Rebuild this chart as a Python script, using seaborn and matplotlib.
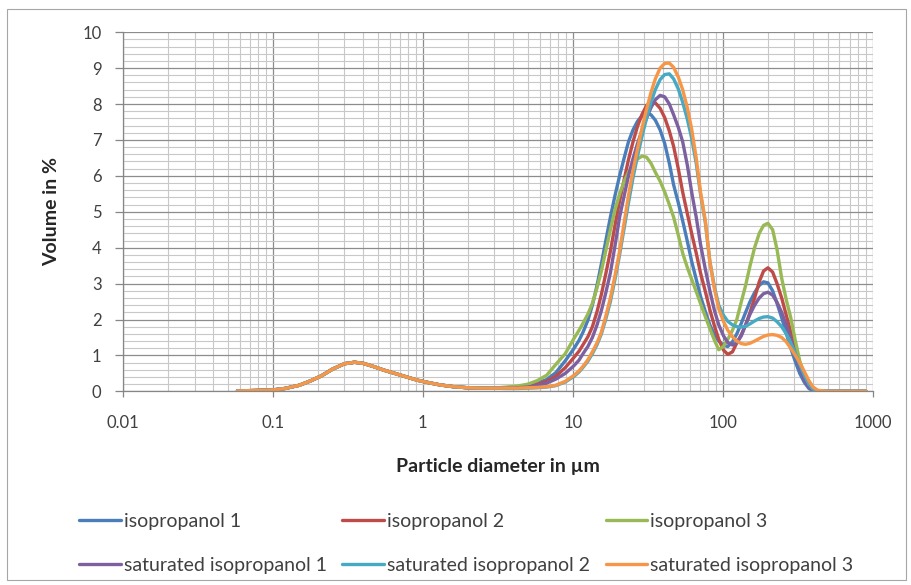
import numpy as np
import pandas as pd
import seaborn as sns
import matplotlib.pyplot as plt
from matplotlib.patches import Rectangle

# particle diameters in um, fine mode shared by all samples
fine_diam = [0.058, 0.07, 0.085, 0.1, 0.12, 0.15, 0.18, 0.21, 0.25, 0.3, 0.35, 0.4,
             0.47, 0.55, 0.65, 0.78, 0.92, 1.1, 1.3, 1.6, 2.0, 2.5, 3.0]
fine_mode = [0.01, 0.02, 0.03, 0.04, 0.08, 0.17, 0.30, 0.43, 0.62, 0.77, 0.81, 0.78,
             0.69, 0.59, 0.50, 0.40, 0.31, 0.24, 0.18, 0.13, 0.10, 0.09, 0.09]

coarse_diam = [3.6, 4.3, 5.0, 5.8, 6.7, 7.7, 8.9,
               10.2, 11, 11.7, 12.6, 13.5, 14.5, 15.5, 16.6, 17.8, 19.1,
               20.5, 22, 23.5, 25.2, 27, 29, 31, 33.2, 35.5, 38.2,
               41, 44, 47, 50.5, 54, 58, 62, 66.5, 71, 76.5,
               82, 88, 94, 101, 108, 116, 124, 133, 142, 152,
               163, 175, 187, 200, 215, 230, 247, 265, 284, 305,
               326, 350, 375, 400, 430, 500, 600, 750, 900]

iso_1 = [0.10, 0.13, 0.17, 0.23, 0.33, 0.52, 0.85,
         1.20, 1.42, 1.65, 1.98, 2.40, 2.95, 3.55, 4.20, 4.85, 5.45,
         6.00, 6.50, 6.95, 7.28, 7.52, 7.68, 7.75, 7.70, 7.55, 7.28,
         6.90, 6.35, 5.75, 5.25, 4.75, 4.18, 3.62, 3.12, 2.65, 2.22,
         1.85, 1.58, 1.40, 1.28, 1.25, 1.38, 1.60, 1.90, 2.20, 2.50,
         2.75, 2.95, 3.05, 3.02, 2.80, 2.45, 2.05, 1.62, 1.20, 0.82,
         0.50, 0.25, 0.08, 0.02, 0.0, 0.0, 0.0, 0.0, 0.0]
iso_2 = [0.10, 0.11, 0.14, 0.19, 0.28, 0.42, 0.66,
         0.95, 1.12, 1.30, 1.52, 1.80, 2.22, 2.70, 3.28, 3.90, 4.62,
         5.30, 5.90, 6.45, 6.95, 7.38, 7.72, 7.95, 8.06, 8.03, 7.88,
         7.62, 7.25, 6.82, 6.20, 5.55, 4.95, 4.40, 3.85, 3.30, 2.78,
         2.27, 1.82, 1.45, 1.15, 1.03, 1.10, 1.35, 1.58, 1.85, 2.20,
         2.60, 3.05, 3.35, 3.44, 3.32, 3.00, 2.60, 2.12, 1.65, 1.18,
         0.75, 0.40, 0.18, 0.05, 0.0, 0.0, 0.0, 0.0, 0.0]
iso_3 = [0.12, 0.15, 0.20, 0.30, 0.45, 0.75, 1.05,
         1.48, 1.70, 1.90, 2.15, 2.45, 2.88, 3.35, 3.92, 4.50, 5.05,
         5.50, 5.85, 6.10, 6.32, 6.47, 6.55, 6.52, 6.35, 6.10, 5.85,
         5.55, 5.20, 4.85, 4.35, 3.85, 3.45, 3.12, 2.78, 2.45, 2.08,
         1.75, 1.42, 1.16, 1.25, 1.45, 1.70, 2.00, 2.50, 2.95, 3.50,
         4.00, 4.40, 4.62, 4.68, 4.50, 3.95, 3.15, 2.55, 2.05, 1.40,
         0.85, 0.45, 0.22, 0.07, 0.0, 0.0, 0.0, 0.0, 0.0]
sat_1 = [0.09, 0.10, 0.12, 0.16, 0.23, 0.34, 0.50,
         0.72, 0.87, 1.05, 1.25, 1.50, 1.85, 2.25, 2.75, 3.30, 4.05,
         4.85, 5.45, 6.00, 6.48, 6.90, 7.28, 7.60, 7.90, 8.12, 8.24,
         8.20, 8.00, 7.70, 7.35, 6.95, 6.30, 5.55, 4.85, 4.10, 3.40,
         2.80, 2.25, 1.85, 1.55, 1.36, 1.29, 1.35, 1.55, 1.85, 2.15,
         2.40, 2.60, 2.72, 2.76, 2.68, 2.48, 2.20, 1.85, 1.45, 1.02,
         0.65, 0.32, 0.12, 0.03, 0.0, 0.0, 0.0, 0.0, 0.0]
sat_2 = [0.08, 0.08, 0.09, 0.10, 0.12, 0.16, 0.26,
         0.42, 0.54, 0.67, 0.84, 1.05, 1.30, 1.60, 2.02, 2.50, 3.12,
         3.80, 4.55, 5.25, 5.95, 6.55, 7.12, 7.60, 8.05, 8.40, 8.68,
         8.82, 8.84, 8.70, 8.42, 8.05, 7.58, 7.05, 6.35, 5.50, 4.70,
         3.62, 2.90, 2.40, 2.12, 1.95, 1.85, 1.80, 1.79, 1.81, 1.88,
         1.96, 2.03, 2.07, 2.08, 2.04, 1.94, 1.80, 1.60, 1.35, 1.05,
         0.75, 0.45, 0.20, 0.06, 0.01, 0.0, 0.0, 0.0, 0.0]
sat_3 = [0.09, 0.09, 0.10, 0.11, 0.13, 0.17, 0.28,
         0.45, 0.57, 0.70, 0.88, 1.10, 1.35, 1.65, 2.10, 2.60, 3.22,
         3.90, 4.70, 5.45, 6.15, 6.75, 7.35, 7.85, 8.32, 8.70, 9.00,
         9.13, 9.14, 9.02, 8.75, 8.40, 7.90, 7.30, 6.50, 5.55, 4.75,
         3.60, 2.85, 2.30, 1.95, 1.70, 1.52, 1.40, 1.33, 1.31, 1.34,
         1.40, 1.47, 1.53, 1.57, 1.58, 1.56, 1.50, 1.38, 1.20, 1.00,
         0.80, 0.55, 0.30, 0.12, 0.03, 0.0, 0.0, 0.0, 0.0]

labels = ["isopropanol 1", "isopropanol 2", "isopropanol 3",
          "saturated isopropanol 1", "saturated isopropanol 2", "saturated isopropanol 3"]
colors = ["#4A7EBB", "#BE4B48", "#98B954", "#7D60A0", "#46AAC5", "#F79646"]
x_ticks = [0.01, 0.1, 1, 10, 100, 1000]
x_ticklabels = ["0.01", "0.1", "1", "10", "100", "1000"]

diameter = fine_diam + coarse_diam
rows = []
for name, coarse in zip(labels, [iso_1, iso_2, iso_3, sat_1, sat_2, sat_3]):
    for d, v in zip(diameter, fine_mode + coarse):
        rows.append((name, d, v))
df = pd.DataFrame(rows, columns=["sample", "diameter", "volume"])

# %%
sns.set_theme(style="white")
plt.rcParams["font.family"] = ["Lato", "DejaVu Sans"]
plt.rcParams["lines.solid_capstyle"] = "round"
plt.rcParams["lines.solid_joinstyle"] = "round"

fig = plt.figure(figsize=(9.11, 5.85), dpi=100)
ax = fig.add_axes([0.135, 0.331, 0.823, 0.614])

sns.lineplot(data=df, x="diameter", y="volume", hue="sample", hue_order=labels,
             palette=colors, linewidth=2.4, estimator=None, sort=False,
             legend=False, ax=ax)

ax.set_xscale("log")
ax.set_xlim(0.01, 1000)
ax.set_ylim(0, 10)
ax.set_xticks(x_ticks)
ax.set_xticklabels(x_ticklabels)
ax.set_yticks(range(0, 11))
ax.set_yticks(np.arange(0, 10, 0.2), minor=True)

ax.grid(which="major", color="#8c8c8c", linewidth=0.9)
ax.grid(which="minor", color="#c8c8c8", linewidth=0.8)
ax.set_axisbelow(True)

for s in ["top", "right"]:
    ax.spines[s].set_visible(False)
for s in ["left", "bottom"]:
    ax.spines[s].set_color("#868686")
    ax.spines[s].set_linewidth(0.9)

ax.tick_params(axis="y", which="major", left=True, length=5.5, width=0.9,
               color="#868686", pad=10, labelsize=12, labelcolor="#404040")
ax.tick_params(axis="x", which="major", bottom=True, length=4, width=0.9,
               color="#868686", pad=13, labelsize=12, labelcolor="#404040")
ax.tick_params(which="minor", length=0)

ax.set_xlabel("Particle diameter in µm", fontsize=14, fontweight="bold")
ax.set_ylabel("Volume in %", fontsize=14, fontweight="bold")
ax.xaxis.set_label_coords(0.5, -0.185)
ax.yaxis.set_label_coords(-0.084, 0.5)

# legend is filled column-wise, so reorder to get two rows
lines = ax.get_lines()
order = [0, 3, 1, 4, 2, 5]
leg = fig.legend([lines[i] for i in order], [labels[i] for i in order],
                 ncol=3, loc="upper left", bbox_to_anchor=(79 / 911, 1 - 513 / 585),
                 frameon=False, fontsize=14, handlelength=2.15, handletextpad=0.15,
                 columnspacing=0.8, labelspacing=1.4, borderpad=0, borderaxespad=0)
for t in leg.get_texts():
    t.set_color("#404040")

fig.patches.append(Rectangle((7 / 911, 1 - 580 / 585), 899 / 911, 571 / 585,
                             transform=fig.transFigure, fill=False,
                             edgecolor="#a6a6a6", linewidth=0.8))

plt.savefig("out.png", dpi=100)
